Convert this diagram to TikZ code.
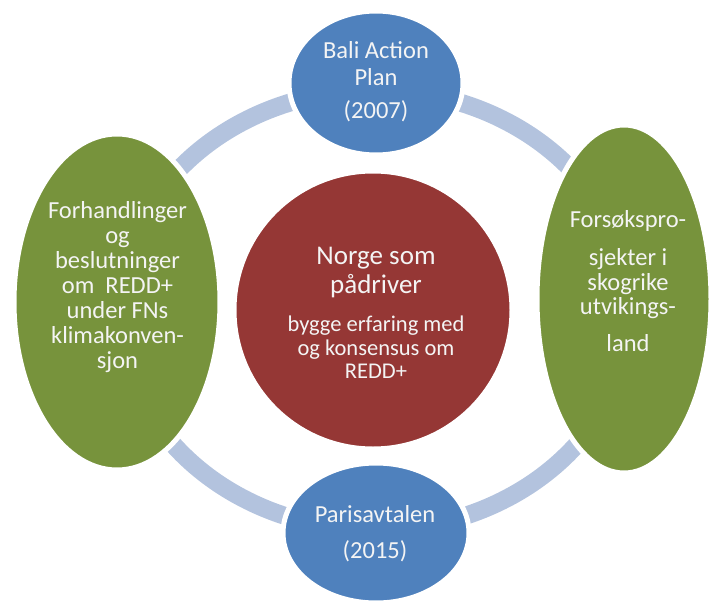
\documentclass[tikz,border=0pt]{standalone}
\usepackage{fontspec}
\setmainfont{Carlito}
\usetikzlibrary{shapes.geometric}
\definecolor{cblue}{HTML}{4F81BD}
\definecolor{cgreen}{HTML}{77933C}
\definecolor{cred}{HTML}{953735}
\definecolor{cring}{HTML}{B3C3DE}
\definecolor{ctext}{HTML}{F4F4F4}
\newcommand\bigtitle{\fontsize{27}{28}\selectfont}
\tikzset{
  blob/.style={ellipse, draw=white, line width=5pt, inner sep=0pt},
  ringband/.style={draw=cring, line width=18pt},
  lbl/.style={text=ctext, align=center, inner sep=0pt, font={\fontsize{24.5}{25}\selectfont}},
}
\begin{document}
\begin{tikzpicture}[x=1pt,y=-1pt]
\useasboundingbox (0,0) rectangle (713,605);
% ring
\draw[ringband] (375,310) ellipse [x radius=255pt, y radius=220pt];
% shapes
\node[blob, fill=cblue, minimum width=174pt, minimum height=144pt] (bali) at (376,83) {};
\node[blob, fill=cblue, minimum width=186pt, minimum height=140pt] (paris) at (376,533) {};
\node[blob, fill=cgreen, minimum width=206pt, minimum height=336pt] (left) at (117,302) {};
\node[blob, fill=cgreen, minimum width=174pt, minimum height=348pt] (right) at (624,299) {};
\node[circle, fill=cred, draw=white, line width=3pt, minimum size=276pt, inner sep=0pt] (mid) at (373,310) {};
% texts
\node[lbl, font={\fontsize{24.5}{27}\selectfont}] (baliT) at (376,82) {Bali Action\\Plan\\[6pt](2007)};
\node[lbl] (parisT) at (375,534) {Parisavtalen\\[11pt](2015)};
\node[lbl] (leftT) at (117.5,287) {Forhandlinger\\og\\beslutninger\\om~ REDD+\\under FNs\\klimakonven-\\sjon};
\node[lbl, font={\fontsize{24.5}{24.5}\selectfont}] (rightT) at (628,281) {Forsøkspro-\\[14pt]sjekter i\\skogrike\\utvikings-\\[12pt]land};
\node[lbl, font={\fontsize{22.5}{23.5}\selectfont}] (midT) at (376,313) {\bigtitle Norge som\\[4pt]\bigtitle pådriver\\[15pt]bygge erfaring med\\og konsensus om\\REDD+};
\end{tikzpicture}
\end{document}
